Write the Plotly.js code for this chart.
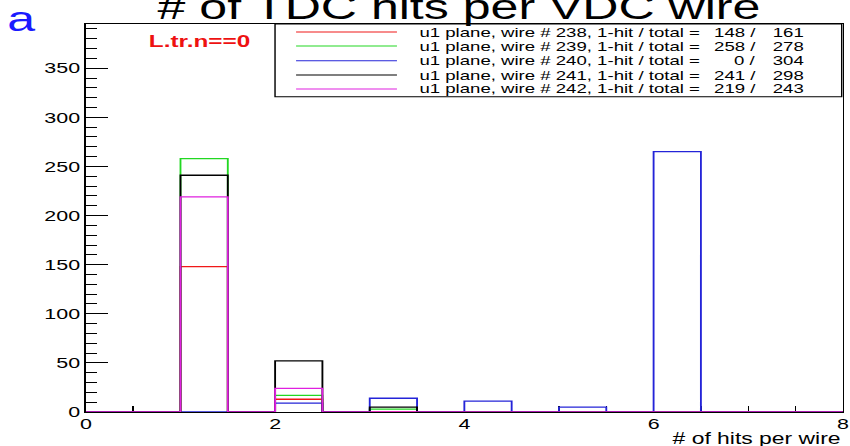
<!DOCTYPE html>
<html>
<head>
<meta charset="utf-8">
<script src="https://cdn.plot.ly/plotly-3.0.1.min.js"></script>
<style>
  html, body { margin: 0; padding: 0; background: #fff; overflow: hidden; }
  #canvas { width: 850px; height: 446px; overflow: hidden; position: relative; }
  /* the ROOT canvas is drawn narrow and widened horizontally */
  #chart { width: 594px; height: 446px; transform: scaleX(1.43098); transform-origin: 0 0; }
</style>
</head>
<body>
<div id="canvas"><div id="chart"></div></div>
<script>
// Histogram bin edges: 16 bins of width 0.5 from 0 to 8 hits
const binEdges = [0, 0.5, 1, 1.5, 2, 2.5, 3, 3.5, 4, 4.5, 5, 5.5, 6, 6.5, 7, 7.5, 8];

// Wire numbers on the u1 plane
const wires = [238, 239, 240, 241, 242];

// Entries per bin for each wire
const wire238 = [0, 0, 148, 0, 13, 0, 0, 0, 0, 0, 0, 0, 0, 0, 0, 0];
const wire239 = [0, 0, 258, 0, 17, 0, 3, 0, 0, 0, 0, 0, 0, 0, 0, 0];
const wire240 = [0, 0, 0, 0, 9, 0, 14, 0, 11, 0, 5, 0, 265, 0, 0, 0];
const wire241 = [0, 0, 241, 0, 52, 0, 5, 0, 0, 0, 0, 0, 0, 0, 0, 0];
const wire242 = [0, 0, 219, 0, 24, 0, 0, 0, 0, 0, 0, 0, 0, 0, 0, 0];

const lineColors = ['#f01818', '#22d822', '#2424d8', '#000000', '#e020e0'];

const allCounts = [wire238, wire239, wire240, wire241, wire242];
const oneHitBin = binEdges.indexOf(1);

// step outline per histogram (ROOT "hist" style)
const traces = allCounts.map((counts, i) => ({
  type: 'scatter',
  mode: 'lines',
  x: binEdges,
  y: counts.concat([counts[counts.length - 1]]),
  line: { shape: 'hv', color: lineColors[i], width: 1.3 },
  showlegend: false,
  hoverinfo: 'skip'
}));

// hand-built TLegend box
const plotW = 529, plotH = 388, plotL = 60, plotT = 24;
const px = x => (x - plotL) / plotW;
const py = y => (plotT + plotH - y) / plotH;

const rowY = [32, 46, 60.7, 75, 89];
const shapes = [{
  type: 'rect', xref: 'paper', yref: 'paper',
  x0: px(192.2), x1: px(588.2), y0: py(96.7), y1: 1,
  line: { color: '#000', width: 1 }, fillcolor: '#fff', layer: 'above'
}];
const annotations = [];
const font = 'Liberation Sans, Arial, Helvetica, sans-serif';

allCounts.forEach((counts, i) => {
  const oneHit = counts[oneHitBin];
  const total = counts.reduce((a, b) => a + b, 0);
  shapes.push({
    type: 'line', xref: 'paper', yref: 'paper',
    x0: px(206.9), x1: px(277.4), y0: py(rowY[i]), y1: py(rowY[i]),
    line: { color: lineColors[i], width: 1 }, layer: 'above'
  });
  annotations.push({
    xref: 'paper', yref: 'paper', x: px(291.2), y: py(rowY[i]),
    xanchor: 'left', yanchor: 'middle', showarrow: false,
    text: 'u1 plane, wire # ' + wires[i] + ', 1-hit / total =',
    font: { family: font, size: 13, color: '#000' }
  });
  annotations.push({
    xref: 'paper', yref: 'paper', x: px(529.7), y: py(rowY[i]),
    xanchor: 'right', yanchor: 'middle', showarrow: false,
    text: oneHit + ' /',
    font: { family: font, size: 13, color: '#000' }
  });
  annotations.push({
    xref: 'paper', yref: 'paper', x: px(563.7), y: py(rowY[i]),
    xanchor: 'right', yanchor: 'middle', showarrow: false,
    text: String(total),
    font: { family: font, size: 13, color: '#000' }
  });
});

// cut label and panel letter
annotations.push({
  xref: 'paper', yref: 'paper', x: px(139.5), y: py(41.3),
  xanchor: 'center', yanchor: 'middle', showarrow: false,
  text: '<b>L.tr.n==0</b>',
  font: { family: font, size: 17, color: '#ee1111' }
});
annotations.push({
  xref: 'paper', yref: 'paper', x: px(14.7), y: py(18.5),
  xanchor: 'center', yanchor: 'middle', showarrow: false,
  text: 'a',
  font: { family: font, size: 35, color: '#1a1aff' }
});
// x-axis title, right aligned as in ROOT
annotations.push({
  xref: 'paper', yref: 'paper', x: 1, y: py(438.5),
  xanchor: 'right', yanchor: 'middle', showarrow: false,
  text: '# of hits per wire',
  font: { family: font, size: 16, color: '#000' }
});

const layout = {
  width: 594, height: 446,
  margin: { l: 60, r: 5, t: 24, b: 34, pad: 0 },
  paper_bgcolor: '#fff', plot_bgcolor: '#fff',
  font: { family: font, color: '#000' },
  title: {
    text: '# of TDC hits per VDC wire',
    x: 0.540, xref: 'container', xanchor: 'center',
    y: 0.9854, yref: 'container', yanchor: 'middle',
    font: { family: font, size: 35, color: '#000' }
  },
  xaxis: {
    range: [0, 8], dtick: 2, tick0: 0,
    showgrid: false, zeroline: false,
    showline: true, mirror: true, linecolor: '#000', linewidth: 1,
    ticks: 'inside', ticklen: 6, tickcolor: '#000', tickwidth: 1,
    minor: { dtick: 0.5, ticks: 'inside', ticklen: 6, tickcolor: '#000', showgrid: false },
    tickfont: { family: font, size: 15, color: '#000' },
    ticklabelstandoff: -2,
    layer: 'below traces'
  },
  yaxis: {
    range: [0, 395], dtick: 50, tick0: 0,
    showgrid: false, zeroline: false,
    showline: true, mirror: true, linecolor: '#000', linewidth: 1,
    ticks: 'inside', ticklen: 15.4, tickcolor: '#000', tickwidth: 1,
    minor: { dtick: 10, ticks: 'inside', ticklen: 7.7, tickcolor: '#000', showgrid: false },
    tickfont: { family: font, size: 15, color: '#000' },
    layer: 'below traces'
  },
  shapes: shapes,
  annotations: annotations,
  showlegend: false
};

Plotly.newPlot('chart', traces, layout, { staticPlot: true, displayModeBar: false });
</script>
</body>
</html>
